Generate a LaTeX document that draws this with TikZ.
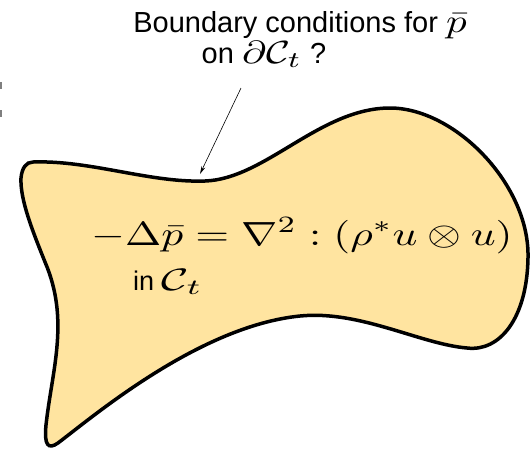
\documentclass[tikz,border=0pt]{standalone}
\usepackage[no-math]{fontspec}
\setsansfont{Liberation Sans}
\usepackage{amsmath, amssymb}
\usepackage{graphicx}
\usepackage{tikz}
\usepackage{xcolor}
\usetikzlibrary{arrows.meta}
\definecolor{regionfill}{HTML}{FFE4A0}
\definecolor{darktext}{HTML}{000000}
\definecolor{tickgray}{HTML}{7F7F7F}
% math set at 10pt, then stretched (wider than tall)
\newcommand{\mathat}[3]{\scalebox{#1}[#2]{\fontsize{10}{12}\selectfont$#3$}}

\begin{document}
\begin{tikzpicture}[x=1pt, y=-1pt,
    labeltext/.style={font=\sffamily\fontsize{29}{34}\selectfont, inner sep=0pt, text=darktext},
    eqtext/.style={inner sep=0pt, text=darktext},
    domaintext/.style={font=\sffamily\fontsize{27}{32}\selectfont, inner sep=0pt, text=darktext}]
    \useasboundingbox (0,0) rectangle (531,451);
    % the region C_t
    \draw[line width=3.5pt, draw=darktext, fill=regionfill]
        (33,162) .. controls (90,160) and (150,183) .. (205,181)
        .. controls (265,179) and (320,108) .. (390,108)
        .. controls (455,108) and (530,185) .. (528,258)
        .. controls (527,318) and (500,352) .. (467,348)
        .. controls (420,344) and (360,310) .. (300,316)
        .. controls (200,326) and (95,415) .. (58,443)
        .. controls (48,450) and (44,445) .. (46,425)
        .. controls (52,370) and (70,320) .. (45,262)
        .. controls (33,232) and (20,200) .. (21,178)
        .. controls (22,168) and (26,162) .. (33,162) -- cycle;
    % equation inside
    \node[eqtext, anchor=base] (poisson) at (302,245)
        {\mathat{4.35}{3.35}{-\Delta\bar{p} = \nabla^2 : (\rho^* u\otimes u)}};
    \node[domaintext, anchor=base west] (domain) at (133,290)
        {in \mathat{4.7}{3.1}{\mathcal{C}_t}};
    % question on the boundary
    \node[labeltext, anchor=base] (bctitle) at (300,32)
        {Boundary conditions for \mathat{4.1}{3.3}{\bar{p}}};
    \node[labeltext, anchor=base] (bcwhere) at (264,63)
        {on \mathat{4.1}{3.2}{\partial\mathcal{C}_t} ?};
    \coordinate (arrowtail) at (241,88);
    \coordinate (arrowtip) at (200,174);
    \draw[-{Stealth[length=8pt, width=4pt]}, line width=0.6pt, darktext] (arrowtail) -- (arrowtip);
    % ticks on the left edge
    \draw[tickgray, line width=1.5pt] (0.75,82) -- (0.75,89);
    \draw[tickgray, line width=1.5pt] (0.75,110) -- (0.75,117);
\end{tikzpicture}
\end{document}
